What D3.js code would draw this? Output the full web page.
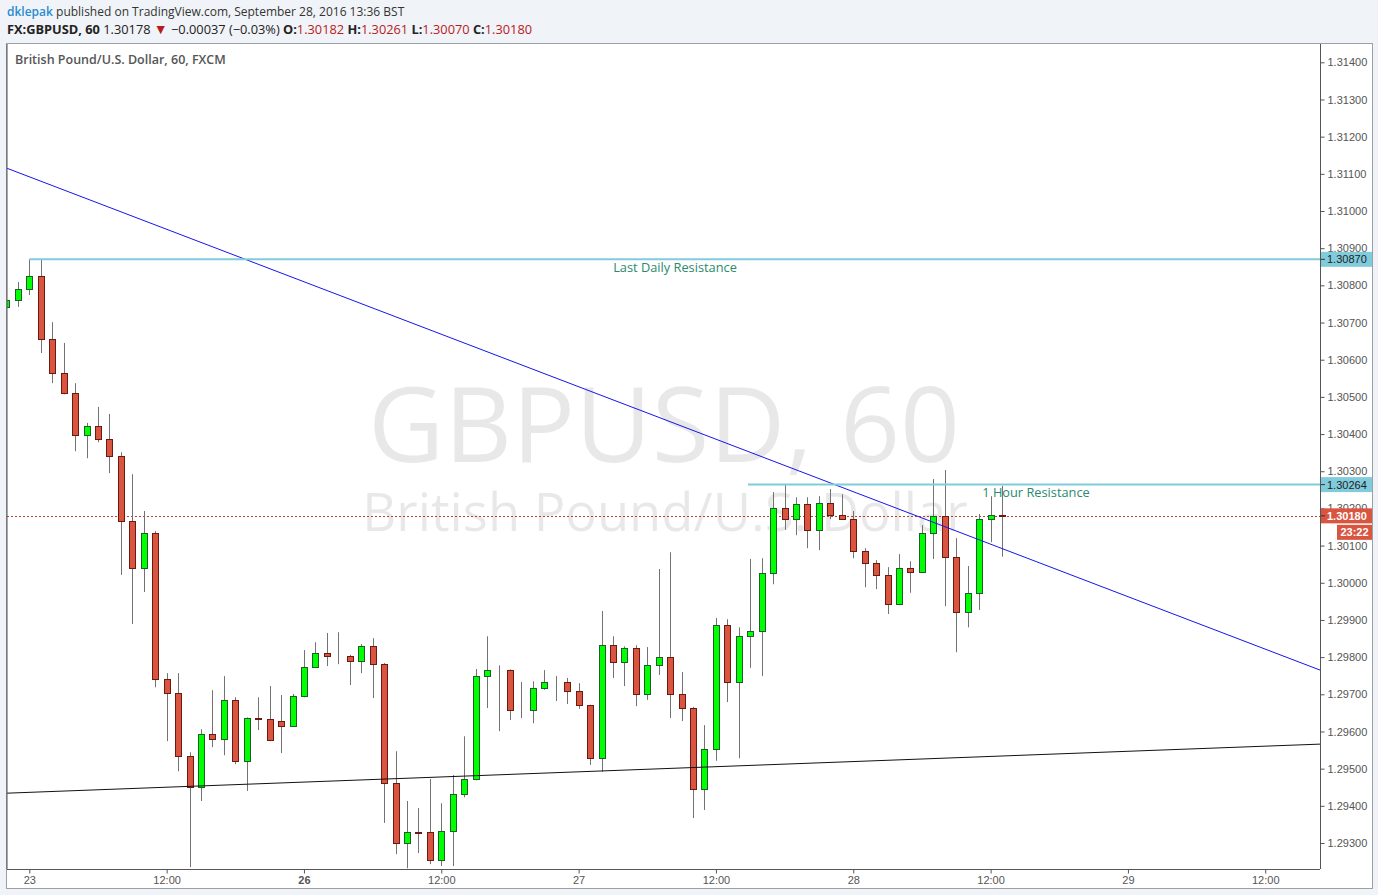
<!DOCTYPE html>
<html>
<head>
<meta charset="utf-8">
<script src="https://cdn.jsdelivr.net/npm/d3@7"></script>
<style>
  html, body { margin: 0; padding: 0; background: #f0f3f7; }
  svg { display: block; }
</style>
</head>
<body>
<svg id="chart" width="1378" height="895"></svg>
<script>
// ---------------- DATA ----------------
const firstBarIndex = -2; // bar index of first candle (0 = Sep 23 00:00)
const opens = [
1.30742,1.30760,1.30790,1.30825,1.30655,1.30564,1.30510,1.30397,1.30421,1.30386,
1.30341,1.30166,1.30039,1.30134,1.29741,1.29703,1.29534,1.29450,1.29593,1.29579,
1.29684,1.29520,1.29636,1.29634,1.29628,1.29614,1.29695,1.29773,1.29811,1.29803,
1.29804,1.29789,1.29830,1.29781,1.29461,1.29300,1.29329,1.29329,1.29254,1.29332,
1.29431,1.29472,1.29749,1.29765,1.29766,1.29657,1.29658,1.29717,1.29732,1.29733,
1.29709,1.29671,1.29528,1.29832,1.29787,1.29824,1.29700,1.29778,1.29800,1.29700,
1.29663,1.29445,1.29553,1.29886,1.29733,1.29856,1.29870,1.30026,1.30201,1.30171,
1.30212,1.30142,1.30214,1.30182,1.30171,1.30085,1.30053,1.30021,1.29943,1.30039,
1.30028,1.30134,1.30179,1.30069,1.29921,1.29972,1.30171,1.30182];
const highs = [
1.30766,1.30809,1.30870,1.30870,1.30701,1.30645,1.30537,1.30430,1.30473,1.30454,
1.30351,1.30292,1.30193,1.30139,1.29757,1.29757,1.29544,1.29606,1.29711,1.29749,
1.29692,1.29638,1.29692,1.29722,1.29698,1.29701,1.29819,1.29840,1.29865,1.29867,
1.29806,1.29835,1.29851,1.29784,1.29547,1.29413,1.29394,1.29472,1.29407,1.29483,
1.29587,1.29768,1.29856,1.29778,1.29767,1.29733,1.29735,1.29765,1.29749,1.29744,
1.29730,1.29672,1.29924,1.29856,1.29829,1.29832,1.29827,1.30037,1.30082,1.29760,
1.29666,1.29617,1.29905,1.29902,1.29880,1.30064,1.30066,1.30244,1.30263,1.30230,
1.30230,1.30233,1.30252,1.30238,1.30193,1.30093,1.30061,1.30042,1.30077,1.30058,
1.30155,1.30279,1.30303,1.30120,1.30045,1.30185,1.30233,1.30261];
const lows = [
1.30736,1.30742,1.30774,1.30618,1.30537,1.30507,1.30354,1.30335,1.30378,1.30295,
1.30021,1.29889,1.29975,1.29719,1.29574,1.29493,1.29235,1.29413,1.29558,1.29536,
1.29512,1.29440,1.29604,1.29574,1.29542,1.29612,1.29692,1.29771,1.29776,1.29781,
1.29725,1.29757,1.29690,1.29354,1.29270,1.29232,1.29273,1.29243,1.29238,1.29238,
1.29423,1.29469,1.29663,1.29601,1.29631,1.29636,1.29622,1.29712,1.29682,1.29674,
1.29661,1.29510,1.29491,1.29744,1.29722,1.29668,1.29685,1.29752,1.29636,1.29628,
1.29367,1.29389,1.29521,1.29679,1.29528,1.29771,1.29749,1.29996,1.30142,1.30128,
1.30093,1.30088,1.30171,1.30169,1.30066,1.29988,1.29983,1.29916,1.29940,1.29973,
1.30026,1.30064,1.29937,1.29813,1.29880,1.29927,1.30109,1.30070];
const closes = [
1.30760,1.30790,1.30825,1.30655,1.30564,1.30510,1.30397,1.30421,1.30386,1.30341,
1.30166,1.30039,1.30134,1.29741,1.29703,1.29534,1.29450,1.29593,1.29579,1.29684,
1.29520,1.29636,1.29634,1.29577,1.29614,1.29695,1.29773,1.29811,1.29803,1.29804,
1.29789,1.29830,1.29781,1.29461,1.29300,1.29329,1.29327,1.29254,1.29332,1.29431,
1.29472,1.29749,1.29765,1.29766,1.29657,1.29658,1.29717,1.29733,1.29733,1.29709,
1.29671,1.29528,1.29832,1.29787,1.29824,1.29700,1.29778,1.29800,1.29700,1.29663,
1.29445,1.29553,1.29886,1.29733,1.29856,1.29870,1.30026,1.30201,1.30171,1.30212,
1.30142,1.30214,1.30182,1.30171,1.30085,1.30053,1.30021,1.29943,1.30039,1.30028,
1.30134,1.30179,1.30069,1.29921,1.29972,1.30171,1.30182,1.30180];

const priceTicks = [1.293,1.294,1.295,1.296,1.297,1.298,1.299,1.300,1.301,1.302,1.303,
  1.304,1.305,1.306,1.307,1.308,1.309,1.310,1.311,1.312,1.313,1.314];
const timeTickIndex = [0,12,24,36,48,60,72,84,96,108];
const timeTickLabels = ["23","12:00","26","12:00","27","12:00","28","12:00","29","12:00"];
const boldTimeLabels = ["26"];

// drawn lines: [barIndex, price] endpoints
const downTrend = [[-1.95, 1.31115], [112.8, 1.29765]];
const upTrend = [[-1.95, 1.29434], [112.8, 1.29566]];
const dailyResistance = {price: 1.30870, from: 0, label: "Last Daily Resistance"};
const hourResistance = {price: 1.30264, from: 62.8, label: "1 Hour Resistance"};
const lastPrice = 1.30180;
const countdown = "23:22";

// ---------------- LAYOUT ----------------
const plot = {left: 7, top: 44, right: 1320, bottom: 869};
const svg = d3.select("#chart");
const x = d3.scaleLinear().domain([0, 108]).range([29.3, 29.3 + 108 * 11.444]);
const y = d3.scaleLinear().domain([1.293, 1.314]).range([843, 62.3]);

// outer white panel
svg.append("rect").attr("x", 6.5).attr("y", 43.5).attr("width", 1366).attr("height", 845)
  .attr("fill", "#fff").attr("stroke", "#9aa0a6").attr("stroke-width", 1);

// header
const hdr = svg.append("g").attr("font-family", "'Open Sans', 'Noto Sans', sans-serif");
const l1 = hdr.append("text").attr("x", 7).attr("y", 16).attr("fill", "#333").attr("font-size", 12);
l1.append("tspan").attr("fill", "#2a8bd0").attr("font-weight", 600).text("dklepak");
l1.append("tspan").text(" published on TradingView.com, September 28, 2016 13:36 BST");
const l2 = hdr.append("text").attr("x", 7).attr("y", 34).attr("fill", "#222").attr("font-size", 12.8);
l2.append("tspan").attr("font-weight", 700).text("FX:GBPUSD, 60");
l2.append("tspan").text(" 1.30178 ");
l2.append("tspan").attr("fill", "#b71c1c").attr("font-size", 14).text("▼");
l2.append("tspan").text(" −0.00037 (−0.03%) ");
[["O:", opens[opens.length-1]], ["H:", highs[highs.length-1]], ["L:", lows[lows.length-1]], ["C:", closes[closes.length-1]]]
  .forEach((kv, k) => {
    l2.append("tspan").attr("font-weight", 700).text((k ? " " : "") + kv[0]);
    l2.append("tspan").attr("fill", "#b71c1c").text(d3.format(".5f")(kv[1]));
  });

// clip
svg.append("defs").append("clipPath").attr("id", "clip").append("rect")
  .attr("x", plot.left).attr("y", plot.top).attr("width", plot.right - plot.left).attr("height", plot.bottom - plot.top);
const g = svg.append("g").attr("clip-path", "url(#clip)");

// watermark
g.append("text").attr("x", 664).attr("y", 462).attr("text-anchor", "middle")
  .attr("font-family", "'Open Sans', sans-serif").attr("font-size", 105).attr("fill", "#000").attr("fill-opacity", 0.09)
  .text("GBPUSD, 60");
g.append("text").attr("x", 665).attr("y", 531).attr("text-anchor", "middle")
  .attr("font-family", "'Open Sans', sans-serif").attr("font-size", 52.5).attr("fill", "#000").attr("fill-opacity", 0.09)
  .text("British Pound/U.S. Dollar");

// chart title
svg.append("text").attr("x", 15).attr("y", 64).attr("font-family", "'Open Sans', sans-serif")
  .attr("font-size", 12.5).attr("font-weight", 600).attr("fill", "#555").text("British Pound/U.S. Dollar, 60, FXCM");

// last price dotted line
g.append("line").attr("x1", plot.left).attr("x2", plot.right)
  .attr("y1", Math.round(y(lastPrice)) + 0.5).attr("y2", Math.round(y(lastPrice)) + 0.5)
  .attr("stroke", "#b8402f").attr("stroke-dasharray", "2,2").attr("stroke-width", 1);

// candles
const candles = opens.map((o, k) => ({i: firstBarIndex + k, o, h: highs[k], l: lows[k], c: closes[k]}));
const cg = g.append("g");
candles.forEach(d => {
  const xc = Math.round(x(d.i)) + 0.5;
  cg.append("line").attr("x1", xc).attr("x2", xc).attr("y1", y(d.h)).attr("y2", y(d.l))
    .attr("stroke", "#737373").attr("stroke-width", 1);
  const up = d.c >= d.o;
  const top = Math.round(y(Math.max(d.o, d.c))) + 0.5;
  const bot = Math.round(y(Math.min(d.o, d.c))) + 0.5;
  cg.append("rect").attr("x", xc - 3).attr("y", top).attr("width", 6).attr("height", Math.max(0, bot - top))
    .attr("fill", up ? "#00ff00" : "#d9553f").attr("stroke", up ? "#1d5e2b" : "#6b1a12").attr("stroke-width", 1);
});

// trend lines
const line = d3.line().x(p => x(p[0])).y(p => y(p[1]));
g.append("path").attr("d", line(downTrend)).attr("stroke", "#1515ee").attr("stroke-width", 1).attr("fill", "none");
g.append("path").attr("d", line(upTrend)).attr("stroke", "#111").attr("stroke-width", 1).attr("fill", "none");

// horizontal resistance lines
[dailyResistance, hourResistance].forEach(r => {
  g.append("line").attr("x1", x(r.from)).attr("x2", plot.right).attr("y1", y(r.price)).attr("y2", y(r.price))
    .attr("stroke", "#80cbdc").attr("stroke-width", 2);
});
g.append("text").attr("x", 675).attr("y", y(dailyResistance.price) + 12.5).attr("text-anchor", "middle")
  .attr("font-family", "'Open Sans', sans-serif").attr("font-size", 12.8).attr("fill", "#2a8a6c").text(dailyResistance.label);
g.append("text").attr("x", 1036).attr("y", y(hourResistance.price) + 12).attr("text-anchor", "middle")
  .attr("font-family", "'Open Sans', sans-serif").attr("font-size", 12.8).attr("fill", "#2a8a6c").text(hourResistance.label);

// axes frame
svg.append("line").attr("x1", plot.left).attr("x2", plot.left).attr("y1", plot.top).attr("y2", plot.bottom).attr("stroke", "#555");

// right axis
const ya = svg.append("g").attr("transform", `translate(${plot.right + 0.5},0)`)
  .call(d3.axisRight(y).tickValues(priceTicks).tickFormat(d3.format(".5f")).tickSize(4).tickPadding(3).tickSizeOuter(0));
ya.select(".domain").attr("stroke", "#555").attr("d", `M0,${plot.top}V${plot.bottom}`);
ya.selectAll(".tick line").attr("stroke", "#555");
ya.selectAll(".tick text").attr("fill", "#555").attr("font-family", "Arial, 'Liberation Sans', sans-serif").attr("font-size", 11);

// bottom axis
const xa = svg.append("g").attr("transform", `translate(0,${plot.bottom + 0.5})`)
  .call(d3.axisBottom(x).tickValues(timeTickIndex).tickFormat((d, k) => timeTickLabels[k]).tickSize(4).tickPadding(3).tickSizeOuter(0));
xa.select(".domain").attr("stroke", "#555").attr("d", `M${plot.left},0H${plot.right}`);
xa.selectAll(".tick line").attr("stroke", "#555");
xa.selectAll(".tick text").attr("fill", "#555").attr("font-family", "Arial, 'Liberation Sans', sans-serif").attr("font-size", 11)
  .attr("font-weight", (d, k) => boldTimeLabels.includes(timeTickLabels[k]) ? 700 : 400);

// price labels on right axis
function priceTag(price, bg, fg, bold) {
  const yy = y(price);
  svg.append("rect").attr("x", plot.right + 1).attr("y", yy - 7.5).attr("width", 51).attr("height", 15).attr("fill", bg);
  svg.append("line").attr("x1", plot.right + 1).attr("x2", plot.right + 5).attr("y1", yy).attr("y2", yy).attr("stroke", "#333");
  svg.append("text").attr("x", plot.right + 7).attr("y", yy + 4).attr("fill", fg)
    .attr("font-family", "Arial, 'Liberation Sans', sans-serif").attr("font-size", 11).attr("font-weight", bold ? 700 : 400)
    .text(d3.format(".5f")(price));
}
priceTag(dailyResistance.price, "#80cbdc", "#222", false);
priceTag(hourResistance.price, "#80cbdc", "#222", false);
priceTag(lastPrice, "#d9553f", "#fff", true);
const cy = y(lastPrice) + 9;
svg.append("rect").attr("x", 1337).attr("y", cy).attr("width", 35).attr("height", 15).attr("fill", "#d9553f");
svg.append("text").attr("x", 1354.5).attr("y", cy + 11.5).attr("text-anchor", "middle").attr("fill", "#fff")
  .attr("font-family", "Arial, 'Liberation Sans', sans-serif").attr("font-size", 11).attr("font-weight", 700).text(countdown);
</script>
</body>
</html>
